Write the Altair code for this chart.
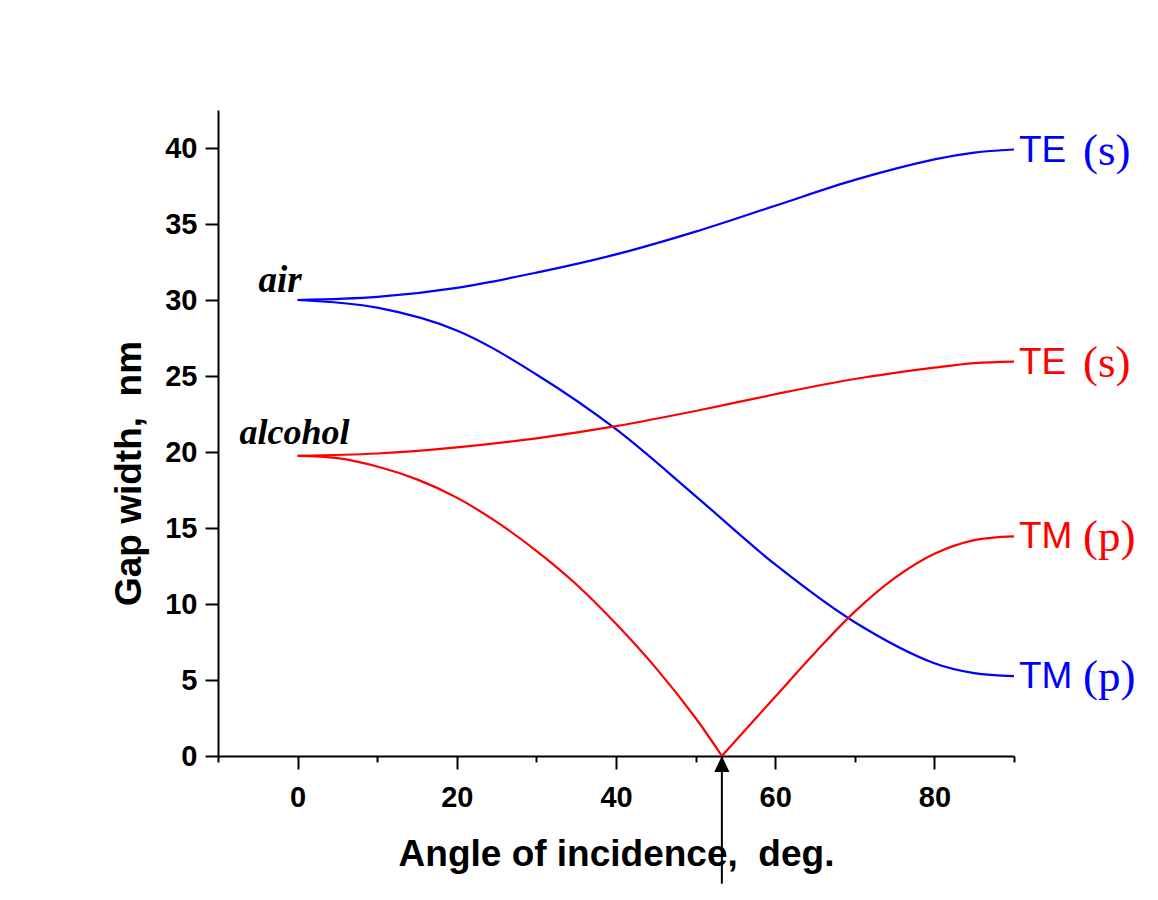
import altair as alt
import pandas as pd

# ---- data ----
angles = [0, 10, 20, 30, 40, 50, 60, 70, 80, 85, 90]
air_te = [30.0, 30.2, 30.8, 31.8, 33.0, 34.5, 36.2, 37.9, 39.25, 39.7, 39.9]
air_tm = [30.0, 29.5, 28.0, 25.1, 21.5, 17.1, 12.6, 8.8, 6.1, 5.45, 5.25]
alc_te = [19.75, 19.9, 20.3, 20.9, 21.7, 22.7, 23.8, 24.8, 25.55, 25.85, 25.95]

brewster = 53.3
alc_tm_fall_angles = [0, 5, 10, 15, 20, 25, 30, 35, 40, 45, 50, brewster]
alc_tm_fall = [19.75, 19.6, 19.05, 18.2, 17.0, 15.4, 13.5, 11.3, 8.7, 5.8, 2.5, 0.0]
alc_tm_rise_angles = [brewster, 60, 65, 70, 75, 80, 85, 90]
alc_tm_rise = [0.0, 3.9, 6.8, 9.5, 11.7, 13.3, 14.2, 14.45]

series_names = ["air TE", "air TM", "alcohol TE", "alcohol TM a", "alcohol TM b"]
series_colors = ["#0000ff", "#0000ff", "#ff0000", "#ff0000", "#ff0000"]

rows = []
for a, v in zip(angles, air_te):
    rows.append({"angle": a, "gap": v, "series": "air TE"})
for a, v in zip(angles, air_tm):
    rows.append({"angle": a, "gap": v, "series": "air TM"})
for a, v in zip(angles, alc_te):
    rows.append({"angle": a, "gap": v, "series": "alcohol TE"})
for a, v in zip(alc_tm_fall_angles, alc_tm_fall):
    rows.append({"angle": a, "gap": v, "series": "alcohol TM a"})
for a, v in zip(alc_tm_rise_angles, alc_tm_rise):
    rows.append({"angle": a, "gap": v, "series": "alcohol TM b"})
df = pd.DataFrame(rows)

end_labels = pd.DataFrame({
    "angle": [90, 90, 90, 90],
    "gap": [air_te[-1], alc_te[-1], alc_tm_rise[-1], air_tm[-1]],
    "mode": ["TE", "TE", "TM", "TM"],
    "pol": ["(s)", "(s)", "(p)", "(p)"],
    "series": ["air TE", "alcohol TE", "alcohol TM b", "air TM"],
})

color_enc = alt.Color("series:N", scale=alt.Scale(domain=series_names, range=series_colors), legend=None)

x_scale = alt.Scale(domain=[-10, 90], nice=False, zero=False)
y_scale = alt.Scale(domain=[0, 42.5], nice=False, zero=False)

common_axis = dict(
    domainColor="black", domainWidth=2, tickColor="black", tickWidth=2,
    labelFont="Liberation Sans", labelFontWeight="bold", labelFontSize=29, labelColor="black",
    titleFont="Liberation Sans", titleFontWeight="bold", titleFontSize=37, titleColor="black",
    labelFlush=False, labelOverlap=False, grid=False,
)

x_axis = alt.Axis(
    values=list(range(-10, 91, 10)),
    labelExpr="datum.value % 20 === 0 ? datum.label : ''",
    tickSize={"condition": {"test": "datum.value % 20 === 0", "value": 13}, "value": 6},
    title="Angle of incidence,\u00a0 deg.",
    titleY=109, titleBaseline="alphabetic",
    labelPadding=14,
    **common_axis,
)
y_axis = alt.Axis(
    values=[i * 2.5 for i in range(18)],
    labelExpr="datum.value % 5 === 0 ? datum.label : ''",
    tickSize={"condition": {"test": "datum.value % 5 === 0", "value": 13}, "value": 6},
    title="Gap width,\u00a0 nm",
    titleX=-78, titleY=363, titleBaseline="alphabetic", titleAlign="center", titleAngle=270,
    labelPadding=8,
    **common_axis,
)

lines = alt.Chart(df).mark_line(strokeWidth=2.2, interpolate="catmull-rom").encode(
    x=alt.X("angle:Q", scale=x_scale, axis=x_axis),
    y=alt.Y("gap:Q", scale=y_scale, axis=y_axis),
    color=color_enc,
)

mode_text = alt.Chart(end_labels).mark_text(
    align="left", baseline="middle", dx=5, dy=1, font="Liberation Sans", fontSize=37
).encode(x="angle:Q", y="gap:Q", text="mode:N", color=color_enc)

pol_text = alt.Chart(end_labels).mark_text(
    align="left", baseline="middle", dx=69, dy=1, font="Liberation Serif", fontSize=45
).encode(x="angle:Q", y="gap:Q", text="pol:N", color=color_enc)

start_df = pd.DataFrame({
    "angle": [0, 0],
    "gap": [air_te[0], alc_te[0]],
    "medium": ["air", "alcohol"],
})
air_text = alt.Chart(start_df[start_df.medium == "air"]).mark_text(
    align="right", baseline="alphabetic", dx=4, dy=-8,
    font="Liberation Serif", fontStyle="italic", fontWeight="bold", fontSize=37, color="black",
).encode(x="angle:Q", y="gap:Q", text="medium:N")
alc_text = alt.Chart(start_df[start_df.medium == "alcohol"]).mark_text(
    align="right", baseline="alphabetic", dx=52, dy=-12,
    font="Liberation Serif", fontStyle="italic", fontWeight="bold", fontSize=36, color="black",
).encode(x="angle:Q", y="gap:Q", text="medium:N")

arrow_df = pd.DataFrame({"angle": [brewster], "top": [0.0], "bottom": [-8.4], "head": [-0.52]})
arrow_line = alt.Chart(arrow_df).mark_rule(color="black", strokeWidth=2).encode(
    x="angle:Q", y="top:Q", y2="bottom:Q"
)
arrow_head = alt.Chart(arrow_df).mark_point(
    shape="M0,-1L0.95,1L-0.95,1Z", filled=True, color="black", opacity=1, size=256
).encode(x="angle:Q", y="head:Q")

chart = alt.layer(lines, arrow_line, arrow_head, mode_text, pol_text, air_text, alc_text).properties(
    width=796, height=646,
    autosize=alt.AutoSizeParams(type="none"),
    padding={"left": 210, "top": 102, "right": 120, "bottom": 128},
    background="white",
).configure_view(strokeWidth=0)

chart.save("out.html", embed_options={"renderer": "svg", "actions": False})
